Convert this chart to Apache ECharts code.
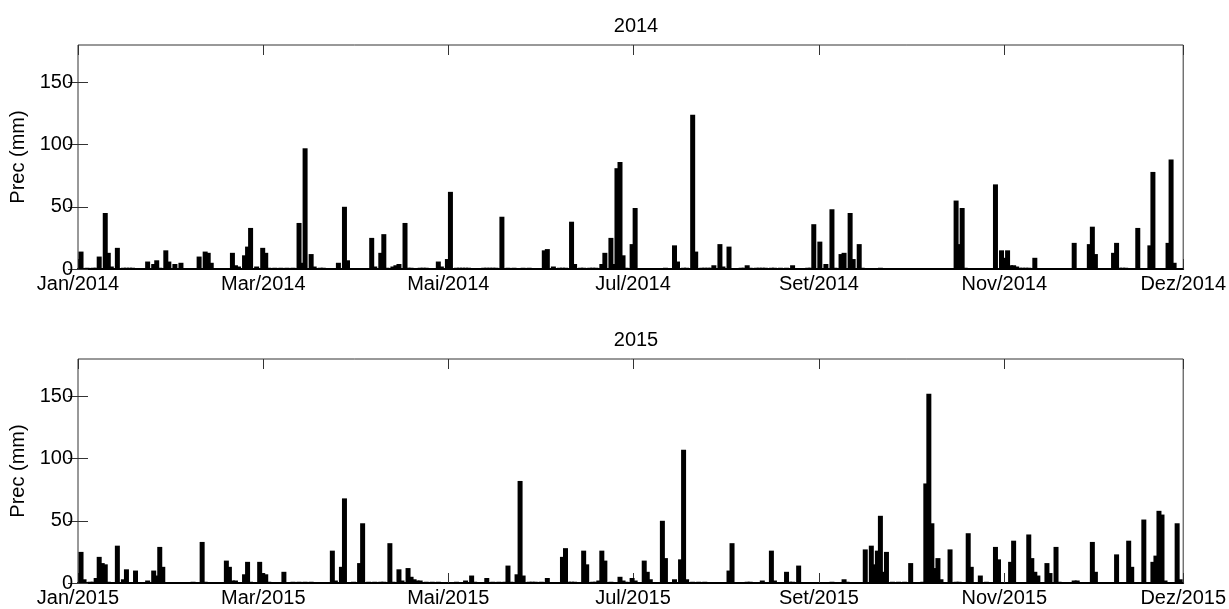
<!DOCTYPE html>
<html>
<head>
<meta charset="utf-8">
<script src="https://cdn.jsdelivr.net/npm/echarts/dist/echarts.min.js"></script>
<style>
html, body { margin: 0; padding: 0; background: #fff; }
#main { width: 1229px; height: 609px; }
</style>
</head>
<body>
<div id="main"></div>
<script>
// daily rain, [day of year, mm]; dry days left out
const rain2014 = [
  [1,14],[3,1],[5,1],[6,1],[7,10],[9,45],[10,13],[11,2],[13,17],[15,1],[16,1],[17,1],[18,1],
  [23,6],[25,4],[26,7],[27,1],[29,15],[30,6],[32,4],[34,5],[40,10],[42,14],[43,13],[44,5],
  [51,13],[52,3],[53,2],[55,11],[56,18],[57,33],[59,2],[61,17],[62,13],[63,1],[65,1],[67,1],
  [69,1],[71,1],[73,37],[74,5],[75,97],[77,12],[78,2],[80,1],[81,1],[86,5],[88,50],[89,7],
  [97,25],[98,2],[100,13],[101,28],[102,1],[104,2],[105,3],[106,4],[108,37],[109,1],[110,1],
  [113,1],[114,1],[115,1],[119,6],[120,2],[122,8],[123,62],[125,1],[126,1],[127,1],[128,1],
  [129,1],[134,1],[135,1],[136,1],[137,1],[138,1],[140,42],[142,1],[144,1],[147,1],[149,1],
  [154,15],[155,16],[157,2],[159,1],[160,1],[161,1],[163,38],[164,4],[166,1],[167,1],[169,1],
  [170,1],[171,1],[173,4],[174,13],[176,25],[177,4],[178,81],[179,86],[180,11],[181,1],
  [183,20],[184,49],[194,1],[197,19],[198,6],[200,1],[201,1],[203,124],[204,14],[206,1],
  [207,1],[208,1],[209,1],[210,3],[212,20],[213,2],[215,18],[219,1],[220,1],[221,3],[222,1],
  [224,1],[225,1],[226,1],[227,1],[229,1],[230,1],[232,1],[234,1],[236,3],[241,1],[242,1],
  [243,36],[245,22],[247,4],[249,48],[250,1],[252,12],[253,13],[255,45],[256,8],[258,20],
  [259,1],[265,1],[290,55],[291,20],[292,49],[293,1],[303,68],[305,15],[306,9],[307,15],
  [308,3],[309,3],[310,2],[311,1],[312,1],[313,1],[314,1],[316,9],[329,21],[334,20],[335,34],
  [336,12],[342,13],[343,21],[344,1],[345,1],[346,1],[350,33],[354,19],[355,78],[360,21],
  [361,88],[362,5]
];

const rain2015 = [
  [1,25],[2,3],[4,1],[5,1],[6,4],[7,21],[8,16],[9,15],[10,1],[13,30],[15,3],[16,11],[19,10],
  [23,2],[25,10],[26,6],[27,29],[28,13],[38,1],[41,33],[42,1],[49,18],[50,13],[51,2],[52,2],
  [55,7],[56,17],[57,1],[60,17],[61,8],[62,7],[63,1],[68,9],[71,1],[73,1],[75,1],[77,1],
  [84,26],[85,2],[87,13],[88,68],[91,1],[93,16],[94,48],[96,1],[98,1],[100,1],[101,1],
  [103,32],[104,1],[106,11],[107,2],[109,12],[110,5],[111,3],[112,2],[113,2],[115,1],[117,1],
  [119,1],[125,1],[128,2],[130,6],[131,1],[135,4],[137,1],[139,1],[141,1],[142,14],[143,1],
  [145,7],[146,82],[147,6],[149,1],[150,1],[151,1],[153,1],[155,4],[160,21],[161,28],[162,1],
  [163,1],[164,1],[167,26],[168,15],[170,1],[171,1],[172,2],[173,26],[174,18],[176,1],[179,5],
  [180,2],[181,1],[183,4],[184,2],[187,18],[188,9],[189,3],[193,50],[194,20],[197,3],[199,19],
  [200,107],[201,3],[203,1],[205,1],[207,1],[215,10],[216,32],[221,1],[222,1],[226,2],[229,26],
  [230,2],[234,9],[235,1],[236,1],[238,14],[249,1],[253,3],[254,1],[260,27],[262,30],[263,15],
  [264,26],[265,54],[266,9],[267,25],[269,1],[271,1],[273,1],[275,16],[279,1],[280,80],
  [281,152],[282,48],[283,12],[284,20],[285,3],[288,27],[290,1],[291,1],[294,40],[295,13],
  [298,6],[300,1],[303,29],[304,19],[308,17],[309,34],[314,39],[315,20],[316,9],[317,6],
  [320,16],[321,8],[323,29],[324,1],[329,2],[330,2],[335,33],[336,9],[343,23],[347,34],
  [348,13],[352,51],[355,17],[356,22],[357,58],[358,55],[359,2],[363,48],[364,3]
];

// where the month labels sit on the day axis
const monthTicks = [0, 61.2, 122.3, 183.3, 244.7, 305.9, 365];
const monthNames = ['Jan', 'Mar', 'Mai', 'Jul', 'Set', 'Nov', 'Dez'];
const precTicks = [0, 50, 100, 150];

const FONT = 'Liberation Sans, Arial, sans-serif';
const tickStyle = { show: true, inside: true, length: 10, lineStyle: { color: '#333', width: 1 } };

function dayAxis(grid, year, top) {
    return {
        type: 'value', gridIndex: grid, position: top ? 'top' : 'bottom',
        min: 0, max: 365,
        axisLine: { show: !top, onZero: false, lineStyle: { color: '#000', width: 2 } },
        axisTick: Object.assign({ customValues: monthTicks }, tickStyle),
        splitLine: { show: false },
        axisLabel: {
            show: !top, customValues: monthTicks, margin: 5,
            fontFamily: FONT, fontSize: 20, color: '#000',
            formatter: function (v) {
                const i = monthTicks.indexOf(v);
                return monthNames[i] + '/' + year;
            }
        }
    };
}

function precAxis(grid, right) {
    return {
        type: 'value', gridIndex: grid, position: right ? 'right' : 'left',
        min: 0, max: 180,
        name: right ? '' : 'Prec (mm)', nameLocation: 'middle', nameGap: 42,
        nameTextStyle: { fontFamily: FONT, fontSize: 20, color: '#000' },
        axisLine: { show: false },
        axisTick: Object.assign({ customValues: precTicks }, tickStyle),
        splitLine: { show: false },
        axisLabel: {
            show: !right, customValues: precTicks, margin: 5,
            fontFamily: FONT, fontSize: 20, color: '#000'
        }
    };
}

function barSeries(idx, data) {
    return {
        type: 'bar', xAxisIndex: idx * 2, yAxisIndex: idx * 2,
        data: data, barWidth: 5,
        itemStyle: { color: '#000' },
        silent: true, animation: false
    };
}

var myChart = echarts.init(document.getElementById('main'));

myChart.setOption({
    animation: false,
    title: [
        { text: '2014', left: 631, top: 11, textAlign: 'center',
          textStyle: { fontFamily: FONT, fontSize: 20, fontWeight: 'normal', color: '#000' } },
        { text: '2015', left: 631, top: 325, textAlign: 'center',
          textStyle: { fontFamily: FONT, fontSize: 20, fontWeight: 'normal', color: '#000' } }
    ],
    grid: [
        { left: 78, right: 44, top: 45, height: 224, show: true, borderColor: '#333', borderWidth: 1 },
        { left: 78, right: 44, top: 359, height: 224, show: true, borderColor: '#333', borderWidth: 1 }
    ],
    xAxis: [
        dayAxis(0, 2014, false), dayAxis(0, 2014, true),
        dayAxis(1, 2015, false), dayAxis(1, 2015, true)
    ],
    yAxis: [
        precAxis(0, false), precAxis(0, true),
        precAxis(1, false), precAxis(1, true)
    ],
    series: [barSeries(0, rain2014), barSeries(1, rain2015)]
});
</script>
</body>
</html>
